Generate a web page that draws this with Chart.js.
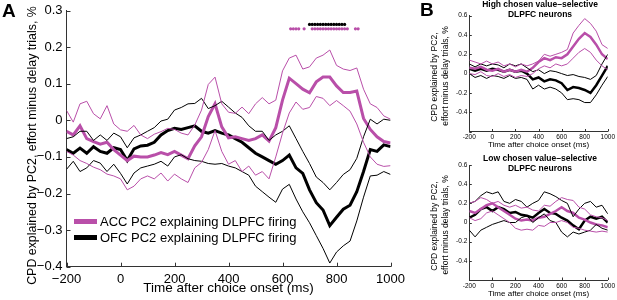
<!DOCTYPE html>
<html>
<head>
<meta charset="utf-8">
<script src="https://cdn.jsdelivr.net/npm/chart.js@4/dist/chart.umd.min.js"></script>
<style>
  body { margin: 0; background: #fff; width: 617px; height: 300px; position: relative; overflow: hidden;
         font-family: "Liberation Sans", Arial, Helvetica, sans-serif; }
  canvas { position: absolute; }
  .txt { position: absolute; white-space: nowrap; color: #000; }
  .sw { position: absolute; }
</style>
</head>
<body>
<canvas id="chartA" width="410" height="300" style="left:0;top:0"></canvas>
<canvas id="chartHigh" width="197" height="150" style="left:420px;top:0"></canvas>
<canvas id="chartLow" width="197" height="150" style="left:420px;top:150px"></canvas>

<div class="txt" style="left:2px;top:1px;font-size:19px;line-height:20px;font-weight:bold">A</div>
<div class="txt" style="left:420px;top:0px;font-size:19px;line-height:20px;font-weight:bold">B</div>

<div class="sw" style="left:74px;top:219px;width:23px;height:5px;background:#b94fa9"></div>
<div class="txt" style="left:100px;top:214px;font-size:13px;line-height:15px">ACC PC2 explaining DLPFC firing</div>
<div class="sw" style="left:74px;top:235px;width:23px;height:5px;background:#000"></div>
<div class="txt" style="left:100px;top:230px;font-size:13px;line-height:15px">OFC PC2 explaining DLPFC firing</div>

<div class="txt" style="left:460px;top:-1px;width:160px;text-align:center;font-size:8.5px;line-height:10px;font-weight:bold">High chosen value–selective<br>DLPFC neurons</div>
<div class="txt" style="left:460px;top:153px;width:160px;text-align:center;font-size:8.5px;line-height:10px;font-weight:bold">Low chosen value–selective<br>DLPFC neurons</div>

<script>
// ---- panel A: PC2 CPD, effort minus delay trials ----
const timeA = [-200, -175, -150, -125, -100, -75, -50, -25, 0, 25, 50, 75, 100, 125, 150, 175, 200,
  225, 250, 275, 300, 325, 350, 375, 400, 425, 450, 475, 500, 525, 550, 575, 600, 625, 650, 675,
  700, 725, 750, 775, 800, 825, 850, 875, 900, 925, 950, 975, 1000];

const accUpper = [0.027, -0.005, 0.045, 0.052, 0.018, 0.004, 0.04, -0.01, -0.026, -0.03, -0.014, -0.04,
  -0.05, -0.038, -0.031, -0.022, -0.025, -0.035, -0.04, -0.013, 0.028, 0.098, 0.118, 0.045, 0.022,
  0.019, 0.036, 0.018, 0.045, 0.062, 0.045, 0.055, 0.135, 0.17, 0.178, 0.14, 0.146, 0.17, 0.178,
  0.192, 0.15, 0.14, 0.136, 0.143, 0.085, 0.045, 0.035, 0.012, 0.003];
const accMean = [-0.03, -0.04, -0.015, -0.05, -0.058, -0.065, -0.06, -0.08, -0.095, -0.11, -0.098, -0.1,
  -0.1, -0.095, -0.088, -0.094, -0.085, -0.095, -0.105, -0.07, -0.045, 0.01, 0.045, -0.018, -0.048,
  -0.045, -0.05, -0.055, -0.05, -0.04, -0.057, -0.02, 0.055, 0.115, 0.1, 0.085, 0.075, 0.105, 0.118,
  0.118, 0.094, 0.076, 0.076, 0.08, 0.005, -0.025, -0.045, -0.058, -0.062];
const accLower = [-0.085, -0.095, -0.11, -0.118, -0.128, -0.135, -0.147, -0.152, -0.16, -0.19, -0.18,
  -0.16, -0.152, -0.16, -0.144, -0.166, -0.147, -0.16, -0.17, -0.13, -0.115, -0.08, -0.028, -0.085,
  -0.12, -0.11, -0.14, -0.125, -0.15, -0.14, -0.16, -0.1, -0.035, 0.02, 0.05, 0.03, 0.035, 0.065,
  0.06, 0.04, 0.054, 0.04, 0.025, -0.01, -0.06, -0.1, -0.12, -0.126, -0.124];

const ofcUpper = [-0.05, -0.045, -0.03, -0.03, -0.055, -0.04, -0.055, -0.035, -0.045, -0.075, -0.048,
  -0.04, -0.03, -0.02, -0.002, 0.003, 0.028, 0.035, 0.045, 0.046, 0.06, 0.032, 0.04, 0.052, 0.036,
  0.02, 0.008, -0.015, -0.03, -0.03, -0.055, -0.04, -0.03, -0.015, -0.05, -0.085, -0.118, -0.155,
  -0.17, -0.19, -0.17, -0.148, -0.135, -0.104, -0.045, 0.003, -0.01, 0.003, 0.0];
const ofcMean = [-0.08, -0.09, -0.076, -0.09, -0.072, -0.085, -0.09, -0.075, -0.08, -0.11, -0.078, -0.07,
  -0.068, -0.06, -0.04, -0.028, -0.022, -0.025, -0.02, -0.015, -0.03, -0.035, -0.028, -0.035, -0.04,
  -0.05, -0.06, -0.075, -0.09, -0.1, -0.11, -0.12, -0.11, -0.095, -0.13, -0.145, -0.19, -0.225,
  -0.245, -0.288, -0.265, -0.243, -0.232, -0.195, -0.14, -0.08, -0.085, -0.067, -0.072];
const ofcLower = [-0.134, -0.112, -0.14, -0.13, -0.11, -0.117, -0.14, -0.12, -0.145, -0.174, -0.144,
  -0.13, -0.125, -0.12, -0.112, -0.125, -0.1, -0.094, -0.105, -0.11, -0.112, -0.118, -0.12, -0.118,
  -0.125, -0.13, -0.14, -0.15, -0.18, -0.195, -0.21, -0.224, -0.188, -0.175, -0.215, -0.25, -0.28,
  -0.315, -0.35, -0.39, -0.36, -0.343, -0.33, -0.275, -0.21, -0.152, -0.15, -0.14, -0.148];

// significance markers (time bins) and the level they sit at
const accSigTimes = [630, 640, 650, 660, 680, 710, 720, 730, 740, 750, 760, 770, 780, 790, 800, 810,
  820, 830, 840, 870, 880];
const ofcSigTimes = [700, 710, 720, 730, 740, 750, 760, 770, 780, 790, 800, 810, 820, 830];
const accSigLevel = 0.25;
const ofcSigLevel = 0.262;

// ---- panel B: split by chosen value selectivity ----
const timeB = [-200, -150, -100, -50, 0, 50, 100, 150, 200, 250, 300, 350, 400, 450, 500, 550, 600,
  650, 700, 750, 800, 850, 900, 950, 1000];

const highAccUpper = [0.14, 0.12, 0.1, 0.13, 0.1, 0.12, 0.08, 0.1, 0.07, 0.1, 0.08, 0.1, 0.13, 0.2,
  0.18, 0.2, 0.22, 0.25, 0.42, 0.5, 0.57, 0.52, 0.44, 0.3, 0.26];
const highAccMean = [0.06, 0.05, 0.07, 0.04, 0.03, 0.05, 0.02, 0.04, 0.02, 0.04, 0.02, 0.06, 0.12, 0.16,
  0.14, 0.17, 0.16, 0.2, 0.28, 0.36, 0.42, 0.38, 0.3, 0.2, 0.15];
const highAccLower = [0.0, -0.01, 0.02, -0.02, -0.03, 0.0, -0.03, -0.01, -0.04, -0.02, -0.03, 0.0, 0.05,
  0.08, 0.06, 0.1, 0.08, 0.1, 0.16, 0.22, 0.26, 0.22, 0.14, 0.08, 0.04];
const highOfcUpper = [0.1, 0.07, 0.1, 0.08, 0.1, 0.09, 0.06, 0.1, 0.08, 0.1, 0.06, 0.02, 0.04, 0.0, 0.03,
  0.02, 0.0, -0.02, -0.01, -0.03, -0.04, -0.06, -0.02, 0.1, 0.2];
const highOfcMean = [0.05, 0.03, 0.05, 0.03, 0.05, 0.04, 0.02, 0.04, 0.02, 0.03, 0.0, -0.06, -0.04, -0.08,
  -0.06, -0.07, -0.1, -0.17, -0.14, -0.15, -0.17, -0.2, -0.12, -0.02, 0.08];
const highOfcLower = [0.0, -0.04, -0.02, -0.05, -0.02, -0.03, -0.05, -0.02, -0.05, -0.04, -0.06, -0.16,
  -0.12, -0.16, -0.14, -0.16, -0.2, -0.27, -0.26, -0.27, -0.3, -0.3, -0.22, -0.12, -0.03];

const lowAccUpper = [0.2, 0.22, 0.26, 0.24, 0.2, 0.22, 0.18, 0.16, 0.18, 0.15, 0.16, 0.13, 0.12, 0.18,
  0.17, 0.22, 0.26, 0.24, 0.23, 0.16, 0.14, 0.08, 0.06, 0.05, 0.02];
const lowAccMean = [0.12, 0.1, 0.14, 0.18, 0.2, 0.16, 0.12, 0.08, 0.04, 0.02, 0.03, 0.02, 0.05, 0.06,
  0.09, 0.12, 0.16, 0.12, 0.1, 0.05, 0.03, 0.0, -0.02, -0.03, -0.05];
const lowAccLower = [0.05, 0.02, 0.04, 0.1, 0.12, 0.08, 0.04, 0.0, -0.06, -0.08, -0.07, -0.08, -0.03,
  -0.04, 0.0, 0.0, 0.02, 0.0, -0.05, -0.06, -0.08, -0.09, -0.1, -0.09, -0.1];
const lowOfcUpper = [0.2, 0.22, 0.28, 0.32, 0.3, 0.32, 0.22, 0.2, 0.24, 0.22, 0.16, 0.2, 0.23, 0.32, 0.3,
  0.27, 0.23, 0.2, 0.06, 0.14, 0.2, 0.22, 0.16, 0.18, 0.09];
const lowOfcMean = [0.05, 0.08, 0.14, 0.16, 0.12, 0.16, 0.14, 0.1, 0.11, 0.08, 0.07, 0.05, 0.1, 0.14, 0.1,
  0.09, 0.05, 0.02, -0.03, -0.07, 0.02, 0.06, 0.04, 0.06, 0.0];
const lowOfcLower = [-0.08, -0.15, -0.08, -0.05, -0.02, 0.0, 0.02, 0.0, 0.0, 0.05, 0.07, 0.0, 0.05, 0.09,
  0.02, 0.0, -0.1, -0.15, -0.1, -0.12, -0.1, -0.08, -0.02, -0.06, -0.08];

const PINK = '#b94fa9';
const BLACK = '#000000';
Chart.defaults.font.family = '"Liberation Sans", Arial, Helvetica, sans-serif';
Chart.defaults.color = '#000';

const minus = s => String(s).replace('-', '\u2212');

function series(xs, ys, color, width) {
  return {
    data: xs.map((x, i) => ({ x: x, y: ys[i] })),
    borderColor: color, borderWidth: width, pointRadius: 0, tension: 0, fill: false
  };
}
function dots(xs, level, color, r) {
  return {
    type: 'scatter',
    data: xs.map(x => ({ x: x, y: level })),
    backgroundColor: color, borderWidth: 0, pointRadius: r, showLine: false
  };
}

// MATLAB style ticks pointing into the plot
const inwardTicks = {
  id: 'inwardTicks',
  afterDraw(chart, args, opts) {
    const { ctx, chartArea: a, scales: { x, y } } = chart;
    ctx.save();
    ctx.strokeStyle = '#333';
    ctx.lineWidth = 1;
    ctx.beginPath();
    x.ticks.forEach(t => {
      const px = Math.round(x.getPixelForValue(t.value)) + 0.5;
      ctx.moveTo(px, a.bottom); ctx.lineTo(px, a.bottom - opts.len);
    });
    y.ticks.forEach(t => {
      const py = Math.round(y.getPixelForValue(t.value)) + 0.5;
      ctx.moveTo(a.left, py); ctx.lineTo(a.left + opts.len, py);
    });
    ctx.stroke();
    ctx.restore();
  }
};

function axisCommon() {
  return {
    type: 'linear',
    grid: { drawOnChartArea: false, drawTicks: false },
    border: { display: true, color: '#333', width: 1 }
  };
}

// panel A
new Chart(document.getElementById('chartA'), {
  type: 'line',
  data: {
    datasets: [
      series(timeA, accUpper, PINK, 1),
      series(timeA, accLower, PINK, 1),
      series(timeA, ofcUpper, BLACK, 1),
      series(timeA, ofcLower, BLACK, 1),
      series(timeA, accMean, PINK, 3),
      series(timeA, ofcMean, BLACK, 3),
      dots(accSigTimes, accSigLevel, PINK, 1.6),
      dots(ofcSigTimes, ofcSigLevel, BLACK, 1.6)
    ]
  },
  options: {
    responsive: false, animation: false,
    layout: { padding: { top: 6.5, right: 16.7, left: 0, bottom: 0 } },
    plugins: { legend: { display: false }, tooltip: { enabled: false }, inwardTicks: { len: 4 } },
    scales: {
      x: Object.assign(axisCommon(), {
        min: -200, max: 1000,
        afterFit: s => { s.height = 33.3; },
        ticks: { stepSize: 200, padding: 5, maxRotation: 0, autoSkip: false,
                 font: { size: 13 }, callback: v => minus(v) },
        title: { display: true, text: 'Time after choice onset (ms)', font: { size: 13.5 },
                 padding: { top: 0, bottom: 3.5 } }
      }),
      y: Object.assign(axisCommon(), {
        min: -0.4, max: 0.3,
        afterFit: s => { s.width = 66.5; },
        ticks: { stepSize: 0.1, padding: 4, font: { size: 13, lineHeight: 1 },
                 callback: v => Math.abs(v) < 1e-9 ? '0' : minus(v.toFixed(1)) },
        title: { display: true, text: 'CPD explained by PC2, effort minus delay trials, %    ',
                 font: { size: 12.4 }, padding: { top: 25.5, bottom: 0 } }
      })
    }
  },
  plugins: [inwardTicks]
});

// panel B charts
function panelB(id, sets, padTop, xHeight, xTitleBottom) {
  new Chart(document.getElementById(id), {
    type: 'line',
    data: {
      datasets: [
        series(timeB, sets[0], PINK, 1),
        series(timeB, sets[2], PINK, 1),
        series(timeB, sets[3], BLACK, 1),
        series(timeB, sets[5], BLACK, 1),
        series(timeB, sets[1], PINK, 2.5),
        series(timeB, sets[4], BLACK, 2.5)
      ]
    },
    options: {
      responsive: false, animation: false,
      layout: { padding: { top: padTop, right: 7, left: 0, bottom: 0 } },
      plugins: { legend: { display: false }, tooltip: { enabled: false }, inwardTicks: { len: 2.5 } },
      scales: {
        x: Object.assign(axisCommon(), {
          min: -200, max: 1000,
          afterFit: s => { s.height = xHeight; },
          ticks: { stepSize: 200, padding: 2, maxRotation: 0, autoSkip: false,
                   font: { size: 6.5 }, callback: v => String(v) },
          title: { display: true, text: 'Time after choice onset (ms)', font: { size: 8, lineHeight: 1 },
                   padding: { top: 0, bottom: xTitleBottom } }
        }),
        y: Object.assign(axisCommon(), {
          min: -0.6, max: 0.6,
          afterFit: s => { s.width = 49.3; },
          ticks: { stepSize: 0.2, padding: 2, font: { size: 6.5, lineHeight: 1 },
                   callback: v => Math.abs(v + 0.6) < 1e-9 ? '' : (Math.abs(v) < 1e-9 ? '0' : v.toFixed(1)) },
          title: { display: true, text: ['CPD explained by PC2,   ', 'effort minus delay trials, %  '],
                   font: { size: 8.5, lineHeight: 1.2 }, padding: { top: 9.9, bottom: 0 } }
        })
      }
    },
    plugins: [inwardTicks]
  });
}

panelB('chartHigh', [highAccUpper, highAccMean, highAccLower, highOfcUpper, highOfcMean, highOfcLower], 15.7, 18.5, 1);
panelB('chartLow', [lowAccUpper, lowAccMean, lowAccLower, lowOfcUpper, lowOfcMean, lowOfcLower], 15, 20, 2);
</script>
</body>
</html>
